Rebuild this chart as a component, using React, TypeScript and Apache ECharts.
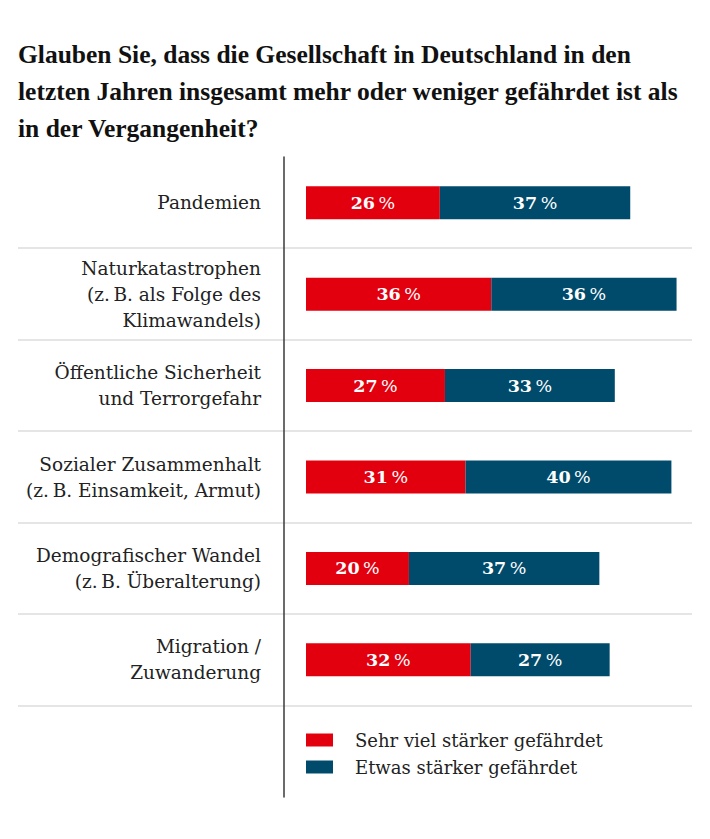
import React, { useEffect, useRef } from "react";
import * as echarts from "echarts";

const titleLines = [
  "Glauben Sie, dass die Gesellschaft in Deutschland in den",
  "letzten Jahren insgesamt mehr oder weniger gefährdet ist als",
  "in der Vergangenheit?",
];

const categories = [
  "Pandemien",
  "Naturkatastrophen\n(z.\u2009B. als Folge des\nKlimawandels)",
  "Öffentliche Sicherheit\nund Terrorgefahr",
  "Sozialer Zusammenhalt\n(z.\u2009B. Einsamkeit, Armut)",
  "Demografischer Wandel\n(z.\u2009B. Überalterung)",
  "Migration /\nZuwanderung",
  "",
];

const seriesNames = ["Sehr viel stärker gefährdet", "Etwas stärker gefährdet"];
const strongValues = [26, 36, 27, 31, 20, 32];
const someValues = [37, 36, 33, 40, 37, 27];

const RED = "#e2000f";
const BLUE = "#004b6b";
const SERIF = "'DejaVu Serif', 'Liberation Serif', serif";

export default function App() {
  const ref = useRef<HTMLDivElement>(null);
  useEffect(() => {
    const chart = echarts.init(ref.current!, null, { renderer: "svg" });
    const barLabel = {
      show: true,
      position: "inside",
      color: "#fff",
      formatter: (p: any) => `{n|${p.value}}{p|\u2009%}`,
      rich: {
        n: { color: "#fff", fontFamily: SERIF, fontWeight: "bold", fontSize: 17.5 },
        p: { color: "#fff", fontFamily: SERIF, fontWeight: "normal", fontSize: 17.5 },
      },
    };
    chart.setOption({
      animation: false,
      title: {
        text: titleLines.join("\n"),
        left: 13,
        top: 31,
        textStyle: {
          fontFamily: "'Liberation Serif', serif",
          fontWeight: "bold",
          fontSize: 25.5,
          lineHeight: 37,
          color: "#111",
        },
      },
      grid: { left: 306, right: 18, top: 157, bottom: 42 },
      xAxis: { type: "value", min: 0, max: 75, show: false },
      yAxis: {
        type: "category",
        data: categories,
        inverse: true,
        offset: 22,
        axisLine: { show: true, onZero: false, lineStyle: { color: "#3a3a3a", width: 1.5 } },
        axisTick: { show: false },
        splitLine: { show: false },
        axisLabel: {
          margin: 23,
          fontFamily: SERIF,
          fontSize: 18.5,
          lineHeight: 26,
          color: "#222",
          align: "right",
        },
      },
      legend: {
        orient: "vertical",
        left: 301,
        top: 726,
        icon: "rect",
        itemWidth: 27,
        itemHeight: 13,
        itemGap: 9,
        data: seriesNames,
        textStyle: {
          fontFamily: SERIF,
          fontSize: 18,
          color: "#222",
          lineHeight: 17,
          padding: [0, 0, 0, 17],
        },
      },
      series: [
        {
          name: seriesNames[0],
          type: "bar",
          stack: "s",
          data: strongValues,
          barWidth: 33,
          itemStyle: { color: RED },
          label: barLabel,
        },
        {
          name: seriesNames[1],
          type: "bar",
          stack: "s",
          data: someValues,
          barWidth: 33,
          itemStyle: { color: BLUE },
          label: barLabel,
        },
      ],
    });
    const lines: any[] = [];
    for (let i = 0; i < strongValues.length; i++) {
      const y0 = chart.convertToPixel({ yAxisIndex: 0 }, i) as number;
      const y1 = chart.convertToPixel({ yAxisIndex: 0 }, i + 1) as number;
      const y = Math.round((y0 + y1) / 2);
      lines.push({
        type: "line",
        shape: { x1: 18, y1: y, x2: 692, y2: y },
        style: { stroke: "#dcdcdc", lineWidth: 1.5 },
        silent: true,
      });
    }
    chart.setOption({ graphic: lines });
    return () => chart.dispose();
  }, []);
  return <div ref={ref} style={{ position: "absolute", left: 0, top: 0, width: 710, height: 839 }} />;
}
